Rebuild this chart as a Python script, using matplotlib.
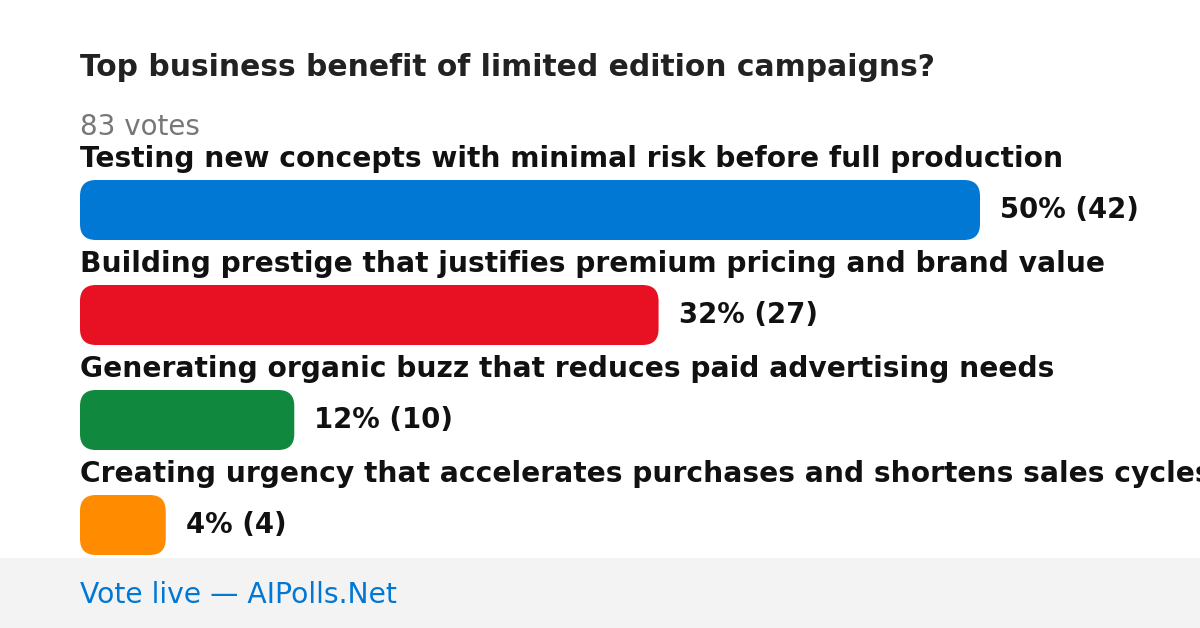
import matplotlib
matplotlib.use("Agg")
import matplotlib.pyplot as plt
from matplotlib.patches import FancyBboxPatch, Rectangle

title = "Top business benefit of limited edition campaigns?"
total_votes = 83
categories = [
    "Testing new concepts with minimal risk before full production",
    "Building prestige that justifies premium pricing and brand value",
    "Generating organic buzz that reduces paid advertising needs",
    "Creating urgency that accelerates purchases and shortens sales cycles",
]
votes = [42, 27, 10, 4]
percents = [50, 32, 12, 4]
colors = ["#0078D4", "#E81123", "#10893E", "#FF8C00"]
footer = "Vote live \u2014 AIPolls.Net"

FAM = "DejaVu Sans"
plt.rcParams['font.family'] = [FAM]

W, H = 1200, 628
fig = plt.figure(figsize=(W / 100, H / 100), dpi=100)
ax = fig.add_axes([0, 0, 1, 1])
ax.set_xlim(0, W)
ax.set_ylim(H, 0)
ax.axis("off")

left = 80
full_w = 900
bar_h = 60
step = 105
label_y0 = 159
bar_y0 = 180

ax.text(left, 68, title, fontsize=21.4, fontweight="bold", color="#222222",
        va="center", ha="left", family=FAM)
ax.text(left, 127, f"{total_votes} votes", fontsize=20, color="#777777",
        va="center", ha="left", family=FAM)

vmax = max(votes)
for i, (cat, v, p, c) in enumerate(zip(categories, votes, percents, colors)):
    ly = label_y0 + i * step
    by = bar_y0 + i * step
    ax.text(left, ly, cat, fontsize=20.25, fontweight="bold", color="#111111",
            va="center", ha="left", family=FAM)
    w = v / vmax * full_w
    r = 16
    patch = FancyBboxPatch((left + r, by + r), w - 2 * r, bar_h - 2 * r,
                           boxstyle=f"round,pad={r}", linewidth=0,
                           facecolor=c)
    ax.add_patch(patch)
    ax.text(left + w + 20, by + bar_h / 2, f"{p}% ({v})", fontsize=19.85,
            fontweight="bold", color="#111111", va="center", ha="left",
            family=FAM)

ax.add_patch(Rectangle((0, 558), W, H - 558, facecolor="#F3F3F3", linewidth=0))
ax.text(left, 595, footer, fontsize=20.3, color="#0078D4", va="center",
        ha="left", family=FAM)

fig.savefig("out.png", dpi=100, facecolor="white")
